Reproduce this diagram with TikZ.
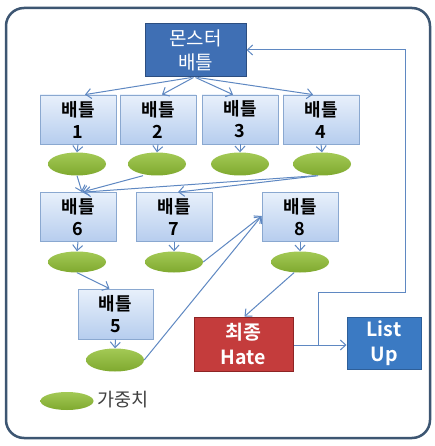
\documentclass[tikz,border=0pt]{standalone}
\usepackage{fontspec}
\setmainfont{Noto Sans CJK KR}[BoldFont={Noto Sans CJK KR Bold}]
\usetikzlibrary{arrows.meta,shapes.geometric}
\definecolor{framec}{HTML}{3D5672}
\definecolor{linec}{HTML}{5F88C2}
\definecolor{battop}{HTML}{E8F0FB}
\definecolor{batbot}{HTML}{B6CDEE}
\definecolor{batdraw}{HTML}{8AA8D0}
\definecolor{monfill}{HTML}{3F6FB4}
\definecolor{mondraw}{HTML}{2C4E80}
\definecolor{greentop}{HTML}{A3C955}
\definecolor{greenbot}{HTML}{7FA92F}
\definecolor{hatefill}{HTML}{C43C3C}
\definecolor{hatedraw}{HTML}{8E2424}
\definecolor{listfill}{HTML}{3B7AC3}
\definecolor{listdraw}{HTML}{2E5F99}
\definecolor{legc}{HTML}{404040}
\tikzset{
  battlebox/.style={rectangle, draw=batdraw, line width=0.8pt, top color=battop, bottom color=batbot,
    minimum width=76pt, minimum height=49pt, inner sep=0pt, align=center, text=black,
    font=\bfseries\fontsize{18}{22}\selectfont},
  weightell/.style={ellipse, top color=greentop, bottom color=greenbot, draw=none,
    minimum width=58pt, minimum height=23pt, inner sep=0pt},
  arr/.style={draw=linec, line width=1pt, -{Straight Barb[length=5.5pt,width=10pt]}},
}
\begin{document}
\begin{tikzpicture}[x=1pt,y=-1pt]
\useasboundingbox (0,0) rectangle (435,446);
\fill[white] (0,0) rectangle (435,446);
\draw[framec, line width=2.5pt, rounded corners=18pt] (6,8) rectangle (430,438);

% top node
\node[rectangle, fill=monfill, draw=mondraw, line width=1pt, minimum width=101pt, minimum height=53pt,
  inner sep=0pt, align=center, text=white, font=\fontsize{19}{24}\selectfont] (mon) at (195.5,50.5) {몬스터\\배틀};

% battles row 1
\node[battlebox] (b1) at (78,119.5) {배틀\\1};
\node[battlebox] (b2) at (158,119.5) {배틀\\2};
\node[battlebox] (b3) at (240,119.5) {배틀\\3};
\node[battlebox] (b4) at (321,119.5) {배틀\\4};

\node[weightell] (e1) at (77,164) {};
\node[weightell] (e2) at (157,164) {};
\node[weightell] (e3) at (240,164) {};
\node[weightell] (e4) at (322,164) {};

% battles row 2
\node[battlebox] (b6) at (78,217) {배틀\\6};
\node[battlebox] (b7) at (174,217) {배틀\\7};
\node[battlebox] (b8) at (300,217) {배틀\\8};

\node[weightell, minimum height=21pt] (e6) at (77,262) {};
\node[weightell, minimum height=21pt] (e7) at (174,262) {};
\node[weightell, minimum height=21pt] (e8) at (300,262) {};

\node[battlebox, minimum width=75pt, minimum height=50pt] (b5) at (115.5,314) {배틀\\5};
\node[weightell] (e5) at (115,360) {};

% final
\node[rectangle, fill=hatefill, draw=hatedraw, line width=1pt, minimum width=99pt, minimum height=54pt,
  inner sep=0pt, align=center, text=white, font=\bfseries\fontsize{19.5}{25}\selectfont] (hate) at (243.5,344) {최종\\Hate};
\node[rectangle, fill=listfill, draw=listdraw, line width=1pt, minimum width=74pt, minimum height=52pt,
  inner sep=0pt, align=center, text=white, font=\bfseries\fontsize{19.5}{25}\selectfont] (list) at (384,343) {List\\Up};

% legend
\node[weightell, minimum width=53pt, minimum height=18pt] (leg) at (67,401) {};
\node[anchor=west, inner sep=0pt, text=legc, font=\fontsize{18.5}{22}\selectfont] (legtext) at (97,400) {가중치};

% arrows from top
\draw[arr] ([xshift=-4pt]mon.south) -- ([xshift=7pt]b1.north);
\draw[arr] ([xshift=-2pt]mon.south) -- ([xshift=4pt]b2.north);
\draw[arr] ([xshift=0pt]mon.south) -- ([xshift=-7pt]b3.north);
\draw[arr] ([xshift=2pt]mon.south) -- ([xshift=-8pt]b4.north);

% battle to weights
\foreach \i in {1,2,3,4,6,7,8,5} {
  \draw[arr] (b\i.south) -- (e\i.north);
}

% weights to row 2
\draw[arr] (e1.south) -- ([xshift=4pt]b6.north);
\draw[arr] ([xshift=-14pt]e2.south) -- ([xshift=4pt]b6.north);
\draw[arr] ([xshift=-6pt]e4.south) -- ([xshift=6pt]b6.north);
\draw[arr] ([xshift=-4pt]e4.south) -- ([xshift=4pt]b7.north);

\draw[arr] (e6.south) -- ([xshift=-6pt]b5.north);
\draw[arr] (e7.east) -- ([yshift=1pt]b8.west);
\draw[arr] (e5.east) -- ([yshift=1pt]b8.west);
\draw[arr] ([xshift=-6pt]e8.south) -- ([xshift=1pt]hate.north);

% final to list and feedback
\draw[arr] (hate.east |- 0,345) -- (list.west |- 0,345);
\coordinate (fb) at (318,345);
\draw[arr] (fb) -- (318,292) -- (405,292) -- (405,50) -- (mon.east |- 0,50);
\end{tikzpicture}
\end{document}
